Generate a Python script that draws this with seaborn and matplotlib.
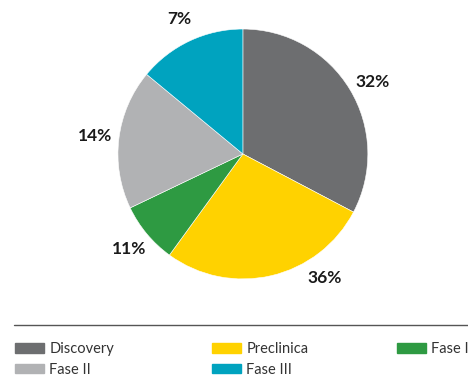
import matplotlib
matplotlib.use("Agg")
import matplotlib.pyplot as plt
import matplotlib.patches as mpatches
import numpy as np
import seaborn as sns

# data (slice sizes as drawn, labels as printed)
phases = ["Discovery", "Preclinica", "Fase I", "Fase II", "Fase III"]
shares = [32.7, 27.3, 7.9, 18.1, 14.0]
pct_labels = ["32%", "36%", "11%", "14%", "7%"]
colors = ["#6d6e70", "#ffd200", "#2e9a42", "#b1b2b4", "#00a3bf"]

sns.set_theme(style="white")
plt.rcParams["font.family"] = ["Lato", "DejaVu Sans"]

fig = plt.figure(figsize=(4.68, 3.76), dpi=100)
ax = fig.add_axes([0.252, 0.258, 0.534, 0.665])

wedges, _ = ax.pie(shares, colors=colors, startangle=90, counterclock=False,
                   wedgeprops=dict(edgecolor="white", linewidth=0.4))
ax.set_xlim(-1, 1)
ax.set_ylim(-1, 1)
ax.set_aspect("equal")

# percentage labels outside the slices
nudge = {"36%": 20, "32%": -2}
for w, lab in zip(wedges, pct_labels):
    ang = np.deg2rad((w.theta1 + w.theta2) / 2 + nudge.get(lab, 0))
    ax.text(1.19 * np.cos(ang), 1.19 * np.sin(ang), lab, ha="center", va="center",
            fontsize=12.5, fontweight="bold", color="#1a1a1a")

# separator line above the legend
fig.add_artist(plt.Line2D([0.03, 1.0], [0.136, 0.136], transform=fig.transFigure,
                          color="#555555", lw=1))

handles = {p: mpatches.Patch(color=c, label=p) for p, c in zip(phases, colors)}
columns = [["Discovery", "Fase II"], ["Preclinica", "Fase III"], ["Fase I"]]
col_x = [15 / 468, 212 / 468, 397 / 468]
for names, x in zip(columns, col_x):
    fig.legend(handles=[handles[n] for n in names], loc="upper left",
               bbox_to_anchor=(x, 0.090), frameon=False, fontsize=10.5,
               borderpad=0, borderaxespad=0, handlelength=2.0, handleheight=0.6,
               handletextpad=0.35, labelspacing=0.45, labelcolor="#333333")

fig.savefig("out.png", dpi=100)
